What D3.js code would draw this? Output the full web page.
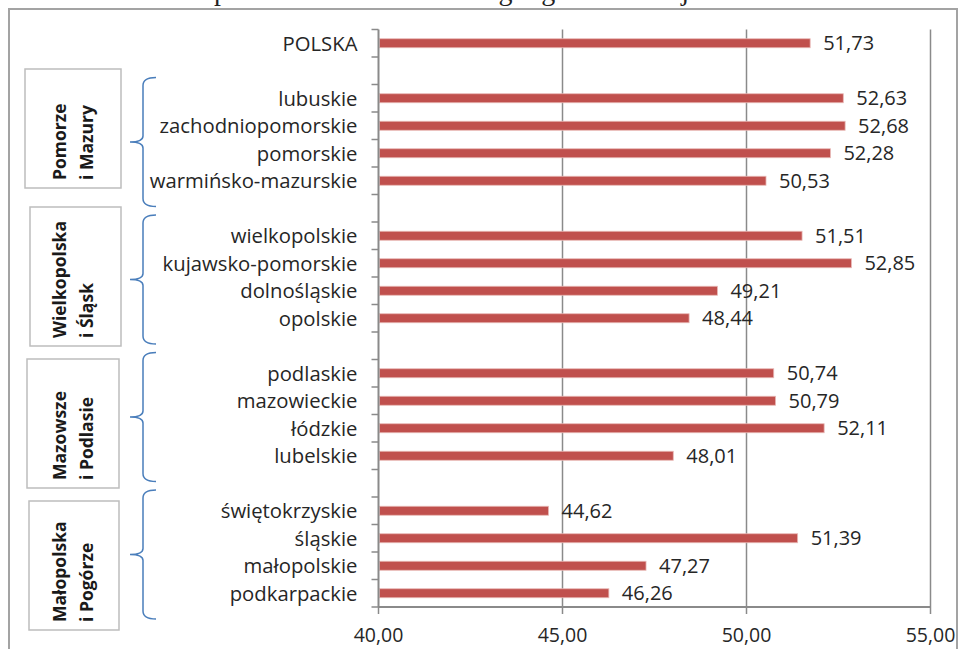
<!DOCTYPE html>
<html lang="pl">
<head>
<meta charset="utf-8">
<script src="https://cdn.jsdelivr.net/npm/d3@7"></script>
<style>
  html, body { margin: 0; padding: 0; background: #fff; }
  svg { display: block; }
</style>
</head>
<body>
<svg id="chart" width="964" height="649"></svg>
<script>
// Województwa grouped by region; empty entries are spacer rows between groups.
const categories = [
  "POLSKA", "",
  "lubuskie", "zachodniopomorskie", "pomorskie", "warmińsko-mazurskie", "",
  "wielkopolskie", "kujawsko-pomorskie", "dolnośląskie", "opolskie", "",
  "podlaskie", "mazowieckie", "łódzkie", "lubelskie", "",
  "świętokrzyskie", "śląskie", "małopolskie", "podkarpackie"
];
const values = [
  51.73, null,
  52.63, 52.68, 52.28, 50.53, null,
  51.51, 52.85, 49.21, 48.44, null,
  50.74, 50.79, 52.11, 48.01, null,
  44.62, 51.39, 47.27, 46.26
];
const xTicks = [40, 45, 50, 55];
const xDomain = [40, 55];

// Regions: two-line name plus first and last row index.
const regionNames = [["Pomorze", "i Mazury"], ["Wielkopolska", "i Śląsk"], ["Mazowsze", "i Podlasie"], ["Małopolska", "i Pogórze"]];
const regionFirst = [2, 7, 12, 17];
const regionLast = [5, 10, 15, 20];

const fmt = v => v.toFixed(2).replace(".", ",");

const svg = d3.select("#chart");
const plot = { left: 378.5, right: 930.5, top: 29.5, bottom: 607 };
const labelFont = "Open Sans, sans-serif";

// Outer frame
svg.append("rect")
  .attr("x", 9).attr("y", 9).attr("width", 948).attr("height", 660)
  .attr("fill", "none").attr("stroke", "#a3a3a3").attr("stroke-width", 2);

// Title line sitting above the top edge of the page
svg.append("text")
  .attr("x", 462).attr("y", -0.5)
  .attr("text-anchor", "middle")
  .attr("font-family", "Liberation Serif, serif")
  .attr("font-size", 28)
  .attr("fill", "#222")
  .text("Średni poziom wskaźnika według regionów i województw");

const x = d3.scaleLinear().domain(xDomain).range([plot.left, plot.right]);
const y = d3.scaleBand().domain(d3.range(categories.length)).range([plot.top, plot.bottom]).padding(0);
const step = y.step();
const barH = 9;

// Vertical gridlines
svg.append("g").selectAll("line")
  .data(xTicks.filter(t => t > xDomain[0]))
  .join("line")
  .attr("x1", d => x(d)).attr("x2", d => x(d))
  .attr("y1", plot.top).attr("y2", plot.bottom)
  .attr("stroke", "#8a8a8a").attr("stroke-width", 1.5);

// Bars
const rows = categories.map((c, i) => ({ c, i, v: values[i] }));
svg.append("g").selectAll("rect")
  .data(rows.filter(d => d.v != null))
  .join("rect")
  .attr("x", x(xDomain[0]) + 1)
  .attr("y", d => y(d.i) + step / 2 - barH / 2)
  .attr("width", d => x(d.v) - x(xDomain[0]) - 1)
  .attr("height", barH)
  .attr("fill", "#c0504d")
  .attr("stroke", "#e8b8b6").attr("stroke-width", 0.8);

// Value labels
svg.append("g").selectAll("text")
  .data(rows.filter(d => d.v != null))
  .join("text")
  .attr("x", d => x(d.v) + 13)
  .attr("y", d => y(d.i) + step / 2)
  .attr("dy", "0.36em")
  .attr("font-family", labelFont)
  .attr("font-size", 20)
  .attr("fill", "#262626")
  .text(d => fmt(d.v));

// Category axis (left)
const yAxis = svg.append("g");
yAxis.append("line")
  .attr("x1", plot.left).attr("x2", plot.left)
  .attr("y1", plot.top).attr("y2", plot.bottom)
  .attr("stroke", "#8a8a8a").attr("stroke-width", 2);
yAxis.selectAll("line.tick")
  .data(d3.range(categories.length + 1))
  .join("line").attr("class", "tick")
  .attr("x1", plot.left - 7).attr("x2", plot.left)
  .attr("y1", d => plot.top + d * step).attr("y2", d => plot.top + d * step)
  .attr("stroke", "#8a8a8a").attr("stroke-width", 1.5);
yAxis.selectAll("text")
  .data(rows.filter(d => d.c))
  .join("text")
  .attr("x", plot.left - 21)
  .attr("y", d => y(d.i) + step / 2)
  .attr("dy", "0.36em")
  .attr("text-anchor", "end")
  .attr("font-family", labelFont)
  .attr("font-size", 20.3)
  .attr("fill", "#262626")
  .text(d => d.c);

// Value axis (bottom)
const xAxis = svg.append("g");
xAxis.append("line")
  .attr("x1", plot.left).attr("x2", plot.right)
  .attr("y1", plot.bottom).attr("y2", plot.bottom)
  .attr("stroke", "#8a8a8a").attr("stroke-width", 2);
xAxis.selectAll("line.tick")
  .data(xTicks)
  .join("line").attr("class", "tick")
  .attr("x1", d => x(d)).attr("x2", d => x(d))
  .attr("y1", plot.bottom).attr("y2", plot.bottom + 7)
  .attr("stroke", "#8a8a8a").attr("stroke-width", 1.5);
xAxis.selectAll("text")
  .data(xTicks)
  .join("text")
  .attr("x", d => x(d))
  .attr("y", plot.bottom + 28)
  .attr("dy", "0.36em")
  .attr("text-anchor", "middle")
  .attr("font-family", labelFont)
  .attr("font-size", 19.5)
  .attr("fill", "#262626")
  .text(d => fmt(d));

// Region boxes with rotated names
const boxes = [
  { x0: 25, x1: 121, y0: 69, y1: 188 },
  { x0: 30, x1: 121, y0: 207, y1: 346 },
  { x0: 27, x1: 119, y0: 359, y1: 488 },
  { x0: 29, x1: 119, y0: 501, y1: 630 }
];
const gRegions = svg.append("g");
regionNames.forEach((name, k) => {
  const b = boxes[k];
  gRegions.append("rect")
    .attr("x", b.x0).attr("y", b.y0)
    .attr("width", b.x1 - b.x0).attr("height", b.y1 - b.y0)
    .attr("fill", "#fff").attr("stroke", "#bdbdbd").attr("stroke-width", 1.5);
  name.forEach((line, j) => {
    gRegions.append("text")
      .attr("transform", `translate(${66 + j * 27},${b.y1 - 8}) rotate(-90)`)
      .attr("font-family", labelFont)
      .attr("font-weight", "bold")
      .attr("font-size", 17.5)
      .attr("fill", "#1a1a1a")
      .text(line);
  });

  // Curly brace spanning the region's rows
  const top = y(regionFirst[k]) - 7;
  const bot = y(regionLast[k]) + step + 12;
  const mid = (top + bot) / 2;
  const xh = 156, xv = 143, xt = 130;
  const p = d3.path();
  p.moveTo(xh, top);
  p.quadraticCurveTo(xv, top, xv, top + 8);
  p.lineTo(xv, mid - 6);
  p.quadraticCurveTo(xv, mid, xt, mid);
  p.quadraticCurveTo(xv, mid, xv, mid + 6);
  p.lineTo(xv, bot - 8);
  p.quadraticCurveTo(xv, bot, xh, bot);
  gRegions.append("path")
    .attr("d", p.toString())
    .attr("fill", "none").attr("stroke", "#4a7ebb").attr("stroke-width", 1.5);
});
</script>
</body>
</html>
